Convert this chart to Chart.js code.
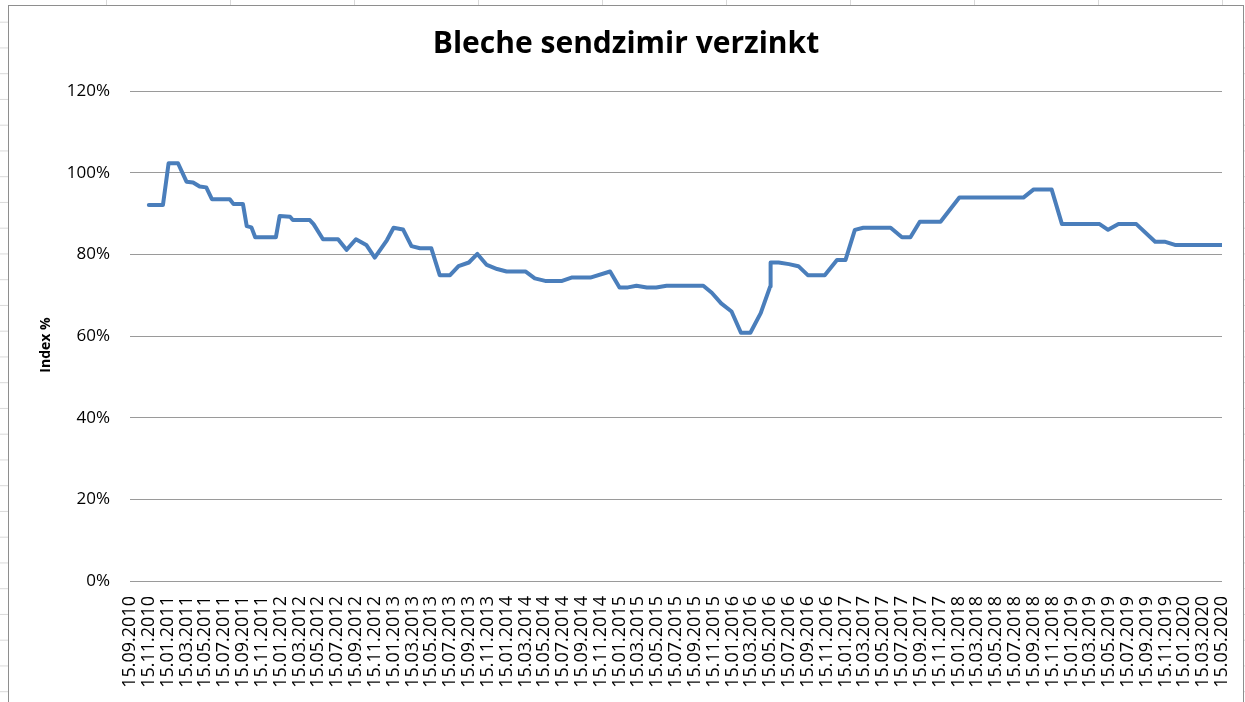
<!DOCTYPE html>
<html>
<head>
<meta charset="utf-8">
<title>Bleche sendzimir verzinkt</title>
<script src="https://cdn.jsdelivr.net/npm/chart.js@4"></script>
<style>
body {
    margin: 0;
    width: 1245px;
    height: 702px;
    overflow: hidden;
    background-color: #fff;
    background-image:
        linear-gradient(to right, #d9d9d9 1px, transparent 1px),
        linear-gradient(to bottom, #d9d9d9 1px, transparent 1px);
    background-size: 124px 100%, 100% 25.75px;
    background-position: 106px 0, 0 21.7px;
}
#rahmen {
    position: absolute;
    left: 8px;
    top: 5px;
    width: 1234px;
    height: 700px;
    border: 1px solid #8e8e8e;
    background: #fff;
}
</style>
</head>
<body>
<div id="rahmen"><canvas id="grafik" width="1234" height="697"></canvas></div>
<script>
// DATEN (Monate ab 15.09.2010, Index in %)

const monat = [
    2, 3.5, 4.1, 5.1, 6, 6.7, 7.4, 8.1, 8.7, 10.6,
    11, 12, 12.4, 12.9, 13.3, 15.5, 15.9, 17, 17.3, 19.1,
    19.5, 20.5, 22.1, 23, 24, 25.1, 26, 27.3, 28, 29,
    29.9, 30.8, 32, 32.9, 34, 34.9, 36, 36.9, 37.9, 39,
    40, 42, 43, 44.1, 45.9, 46.9, 48.9, 51, 52, 52.9,
    53.8, 54.9, 55.9, 57, 60.9, 61.8, 62.8, 63.9, 64.9, 65.9,
    67, 68, 68.05, 68.9, 70, 71, 72, 73.8, 75.1, 76,
    77, 77.9, 80.8, 82, 82.9, 83.9, 86.1, 88.1, 94.9, 96,
    97.9, 99, 103, 103.9, 105, 106.9, 108.9, 109.9, 111, 116
];

const indexWert = [
    92.1, 92.1, 102.3, 102.3, 97.8, 97.6, 96.6, 96.4, 93.5, 93.5,
    92.3, 92.3, 86.9, 86.6, 84.2, 84.2, 89.4, 89.2, 88.4, 88.4,
    87.4, 83.7, 83.7, 81.1, 83.7, 82.3, 79.2, 83.5, 86.5, 86.1,
    82.0, 81.5, 81.5, 74.9, 74.9, 77.1, 78.0, 80.1, 77.4, 76.4,
    75.8, 75.8, 74.1, 73.5, 73.5, 74.3, 74.3, 75.8, 71.9, 71.9,
    72.3, 71.9, 71.9, 72.3, 72.3, 70.6, 68.0, 66.0, 60.8, 60.8,
    65.6, 72.1, 78.0, 78.0, 77.6, 77.1, 74.9, 74.9, 78.6, 78.6,
    86.0, 86.5, 86.5, 84.2, 84.2, 88.0, 88.0, 93.9, 93.9, 95.9,
    95.9, 87.4, 87.4, 86.0, 87.4, 87.4, 83.1, 83.1, 82.3, 82.3
];

const tickLabels = [
    '15.09.2010', '15.11.2010',
    '15.01.2011', '15.03.2011', '15.05.2011', '15.07.2011', '15.09.2011', '15.11.2011',
    '15.01.2012', '15.03.2012', '15.05.2012', '15.07.2012', '15.09.2012', '15.11.2012',
    '15.01.2013', '15.03.2013', '15.05.2013', '15.07.2013', '15.09.2013', '15.11.2013',
    '15.01.2014', '15.03.2014', '15.05.2014', '15.07.2014', '15.09.2014', '15.11.2014',
    '15.01.2015', '15.03.2015', '15.05.2015', '15.07.2015', '15.09.2015', '15.11.2015',
    '15.01.2016', '15.03.2016', '15.05.2016', '15.07.2016', '15.09.2016', '15.11.2016',
    '15.01.2017', '15.03.2017', '15.05.2017', '15.07.2017', '15.09.2017', '15.11.2017',
    '15.01.2018', '15.03.2018', '15.05.2018', '15.07.2018', '15.09.2018', '15.11.2018',
    '15.01.2019', '15.03.2019', '15.05.2019', '15.07.2019', '15.09.2019', '15.11.2019',
    '15.01.2020', '15.03.2020', '15.05.2020'
];

const yTicks = [0, 20, 40, 60, 80, 100, 120];


// ACHSENTITEL (Excel setzt ihn etwas unter die Mitte)

const achsenTitel = {
    id: 'achsenTitel',
    afterDraw(chart) {
        const c = chart.ctx;
        c.save();
        c.translate(37, 339);
        c.rotate(-Math.PI / 2);
        c.font = 'bold 14px "Open Sans"';
        c.fillStyle = '#000';
        c.textAlign = 'center';
        c.textBaseline = 'middle';
        c.fillText('Index %', 0, 0);
        c.restore();
    }
};


// GRAFIK

const punkte = monat.map((m, i) => ({ x: m, y: indexWert[i] }));

const ctx = document.getElementById('grafik');

new Chart(ctx, {

    type: 'line',

    data: {
        datasets: [{
            label: 'Index %',
            data: punkte,
            borderColor: '#4a7ebb',
            borderWidth: 4,
            pointRadius: 0,
            tension: 0,
            fill: false,
            borderJoinStyle: 'round',
            borderCapStyle: 'round'
        }]
    },

    plugins: [achsenTitel],

    options: {

        responsive: false,
        animation: false,
        devicePixelRatio: 1,

        layout: {
            padding: { left: 0, right: 0, top: 20, bottom: 0 }
        },

        plugins: {
            legend: { display: false },
            tooltip: { enabled: false },
            title: {
                display: true,
                text: 'Bleche sendzimir verzinkt',
                color: '#000',
                font: { family: 'Open Sans', size: 30, weight: 'bold' },
                padding: { top: 0, bottom: 29 }
            }
        },

        scales: {

            x: {
                type: 'linear',
                min: 0,
                max: (tickLabels.length - 1) * 2,
                afterFit(scale) {
                    scale.height = 122;
                    scale.paddingLeft = 0;
                    scale.paddingRight = 21;
                },
                grid: { display: false, drawTicks: false },
                border: { display: false },
                ticks: {
                    stepSize: 2,
                    autoSkip: false,
                    maxRotation: 90,
                    minRotation: 90,
                    padding: 15,
                    color: '#000',
                    font: { family: 'Open Sans', size: 18 },
                    callback: (v) => tickLabels[v / 2]
                }
            },

            y: {
                min: yTicks[0],
                max: yTicks[yTicks.length - 1],
                afterFit(scale) { scale.width = 121; },
                border: { display: false },
                grid: { color: '#9a9a9a', lineWidth: 1, drawTicks: false },
                ticks: {
                    stepSize: 20,
                    padding: 20,
                    color: '#000',
                    font: { family: 'Open Sans', size: 17 },
                    callback: (v) => v + '%'
                }
            }

        }

    }

});
</script>
</body>
</html>
